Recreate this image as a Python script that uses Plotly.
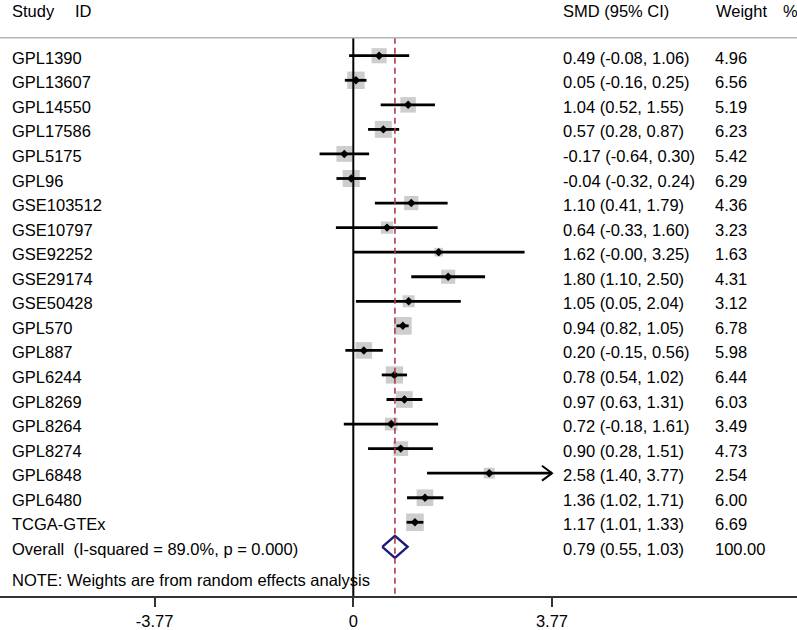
import plotly.graph_objects as go
import math

studies = ["GPL1390", "GPL13607", "GPL14550", "GPL17586", "GPL5175", "GPL96",
           "GSE103512", "GSE10797", "GSE92252", "GSE29174", "GSE50428", "GPL570",
           "GPL887", "GPL6244", "GPL8269", "GPL8264", "GPL8274", "GPL6848",
           "GPL6480", "TCGA-GTEx"]
smd = [0.49, 0.05, 1.04, 0.57, -0.17, -0.04, 1.10, 0.64, 1.62, 1.80, 1.05, 0.94,
       0.20, 0.78, 0.97, 0.72, 0.90, 2.58, 1.36, 1.17]
lower = [-0.08, -0.16, 0.52, 0.28, -0.64, -0.32, 0.41, -0.33, -0.00, 1.10, 0.05, 0.82,
         -0.15, 0.54, 0.63, -0.18, 0.28, 1.40, 1.02, 1.01]
upper = [1.06, 0.25, 1.55, 0.87, 0.30, 0.24, 1.79, 1.60, 3.25, 2.50, 2.04, 1.05,
         0.56, 1.02, 1.31, 1.61, 1.51, 3.77, 1.71, 1.33]
ci_text = ["0.49 (-0.08, 1.06)", "0.05 (-0.16, 0.25)", "1.04 (0.52, 1.55)",
           "0.57 (0.28, 0.87)", "-0.17 (-0.64, 0.30)", "-0.04 (-0.32, 0.24)",
           "1.10 (0.41, 1.79)", "0.64 (-0.33, 1.60)", "1.62 (-0.00, 3.25)",
           "1.80 (1.10, 2.50)", "1.05 (0.05, 2.04)", "0.94 (0.82, 1.05)",
           "0.20 (-0.15, 0.56)", "0.78 (0.54, 1.02)", "0.97 (0.63, 1.31)",
           "0.72 (-0.18, 1.61)", "0.90 (0.28, 1.51)", "2.58 (1.40, 3.77)",
           "1.36 (1.02, 1.71)", "1.17 (1.01, 1.33)"]
weights = [4.96, 6.56, 5.19, 6.23, 5.42, 6.29, 4.36, 3.23, 1.63, 4.31, 3.12, 6.78,
           5.98, 6.44, 6.03, 3.49, 4.73, 2.54, 6.00, 6.69]
weight_text = ["4.96", "6.56", "5.19", "6.23", "5.42", "6.29", "4.36", "3.23", "1.63",
               "4.31", "3.12", "6.78", "5.98", "6.44", "6.03", "3.49", "4.73", "2.54",
               "6.00", "6.69"]
overall_est, overall_lo, overall_hi = 0.79, 0.55, 1.03
overall_label = "Overall  (I-squared = 89.0%, p = 0.000)"
overall_ci_text = "0.79 (0.55, 1.03)"
overall_weight_text = "100.00"
tick_vals = [-3.77, 0, 3.77]
tick_text = ["-3.77", "0", "3.77"]
clip_limit = 3.77
note_text = "NOTE: Weights are from random effects analysis"

W, H = 797, 630
FONT = "Liberation Sans, Arial, sans-serif"
FS = 16.5
zero_px = 353.3
unit_px = 52.7
row0_px = 56.0
row_px = 24.68
plot_bottom = 599
header_line_px = 38

x_range = [-zero_px / unit_px, (W - zero_px) / unit_px]
y_range = [(plot_bottom - row0_px) / row_px, -row0_px / row_px]
header_row = (header_line_px - row0_px) / row_px

n = len(studies)
rows = list(range(n))
overall_row = n

fig = go.Figure()

# grey weight squares
sizes = [6.8 * math.sqrt(w) for w in weights]
fig.add_trace(go.Scatter(x=smd, y=rows, mode="markers",
                         marker=dict(symbol="square", size=sizes, color="#b8b8b8",
                                     line=dict(width=0)),
                         hoverinfo="skip", showlegend=False))

# CI lines
cx, cy = [], []
for lo, hi, r in zip(lower, upper, rows):
    cx += [lo, min(hi, clip_limit), None]
    cy += [r, r, None]
fig.add_trace(go.Scatter(x=cx, y=cy, mode="lines", line=dict(color="black", width=2.8),
                         hoverinfo="skip", showlegend=False))

# arrow (open chevron) where CI clipped
ax_, ay_ = [], []
dx = 10 / unit_px
dy = 7.5 / row_px
for hi, r in zip(upper, rows):
    if hi >= clip_limit:
        ax_ += [clip_limit - dx, clip_limit, clip_limit - dx, None]
        ay_ += [r - dy, r, r + dy, None]
fig.add_trace(go.Scatter(x=ax_, y=ay_, mode="lines", line=dict(color="black", width=2),
                         hoverinfo="skip", showlegend=False))

# point estimates
fig.add_trace(go.Scatter(x=smd, y=rows, mode="markers",
                         marker=dict(symbol="diamond", size=6.5, color="black"),
                         hoverinfo="skip", showlegend=False))

# vertical zero line and overall dashed line
fig.add_shape(type="line", xref="x", yref="y", x0=0, x1=0, y0=header_row, y1=y_range[0],
              line=dict(color="black", width=2))
fig.add_shape(type="line", xref="x", yref="y", x0=overall_est, x1=overall_est,
              y0=header_row, y1=y_range[0],
              line=dict(color="#b03a48", width=1.6, dash="6px,4px"))
# header line
fig.add_shape(type="line", xref="paper", yref="y", x0=0, x1=1, y0=header_row, y1=header_row,
              line=dict(color="#b5b5b5", width=1.5))

# overall diamond
dh = 11 / row_px
fig.add_trace(go.Scatter(x=[overall_lo, overall_est, overall_hi, overall_est, overall_lo],
                         y=[overall_row, overall_row - dh, overall_row, overall_row + dh, overall_row],
                         mode="lines", fill="toself", fillcolor="white",
                         line=dict(color="#1c1c78", width=2.4),
                         hoverinfo="skip", showlegend=False))

annots = []
def txt(xpx, yrow, s, yshift=-2):
    annots.append(dict(x=(xpx - 2) / W, xref="paper", y=yrow, yref="y", text=s, showarrow=False,
                       xanchor="left", yanchor="middle", yshift=yshift,
                       font=dict(family=FONT, size=FS, color="black")))

label_x, ci_x, w_x = 12, 563, 715
for s, c, wt, r in zip(studies, ci_text, weight_text, rows):
    txt(label_x, r, s)
    txt(ci_x, r, c)
    txt(w_x, r, wt)
txt(label_x, overall_row, overall_label)
txt(ci_x, overall_row, overall_ci_text)
txt(w_x, overall_row, overall_weight_text)
txt(label_x, (583 - row0_px) / row_px, note_text, yshift=0)

hdr = (11 - row0_px) / row_px
txt(12, hdr, "Study", yshift=0)
txt(75, hdr, "ID", yshift=0)
txt(563, hdr, "SMD (95% CI)", yshift=0)
txt(716, hdr, "Weight", yshift=0)
txt(783, hdr, "%", yshift=0)

fig.update_layout(
    width=W, height=H, margin=dict(l=0, r=0, t=0, b=H - plot_bottom),
    plot_bgcolor="white", paper_bgcolor="white", annotations=annots,
    xaxis=dict(range=x_range, showgrid=False, zeroline=False, showline=True,
               linecolor="#333333", linewidth=1.5, ticks="outside", ticklen=9,
               tickwidth=1.5, tickcolor="#333333", tickvals=tick_vals, ticktext=tick_text,
               tickfont=dict(family=FONT, size=FS, color="black"), fixedrange=True),
    yaxis=dict(range=y_range, visible=False, fixedrange=True),
    showlegend=False,
)

fig.write_html("out.html", config={"displayModeBar": False},
               post_script="document.body.style.margin='0';document.body.style.overflow='hidden';")
